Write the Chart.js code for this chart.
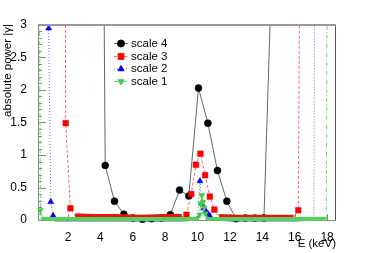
<!DOCTYPE html>
<html>
<head>
<meta charset="utf-8">
<script src="https://cdn.jsdelivr.net/npm/chart.js@4/dist/chart.umd.min.js"></script>
<style>
  html, body { margin: 0; padding: 0; background: #fff; }
  canvas { display: block; }
</style>
</head>
<body>
<canvas id="chart" width="374" height="253"></canvas>
<script>
// values (E in keV, absolute power)
const scale4X = [3.72, 4.30, 4.87, 5.45, 6.02, 6.60, 7.17, 7.75, 8.32, 8.89, 9.46, 10.06, 10.64, 11.23, 11.81, 12.38, 12.95, 13.53, 14.10, 14.68];
const scale4Y = [21, 0.84, 0.29, 0.09, 0.03, 0.01, 0.02, 0.03, 0.08, 0.46, 0.37, 2.03, 1.49, 0.76, 0.29, 0.02, 0.03, 0.03, 0.03, 4.6];

const scale3X = [1.57, 1.86, 2.15, 2.44, 3.5, 5.0, 6.5, 8.0, 9.03, 9.32, 9.61, 9.90, 10.18, 10.47, 10.76, 11.04, 11.33, 12.5, 14.0, 15.5, 15.93, 16.22, 16.51];
const scale3Y = [25, 1.49, 0.18, 0.06, 0.05, 0.05, 0.04, 0.05, 0.05, 0.08, 0.40, 0.85, 1.02, 0.69, 0.36, 0.16, 0.05, 0.04, 0.04, 0.04, 0.04, 0.15, 12];

const scale2X = [0.68, 0.81, 0.94, 1.08, 1.2, 3.0, 5.0, 7.0, 9.0, 9.91, 10.03, 10.15, 10.27, 10.39, 10.51, 10.63, 10.75, 10.87, 12.0, 14.0, 16.0, 17.19, 17.31];
const scale2Y = [8, 2.95, 0.28, 0.07, 0.0, 0.0, 0.0, 0.0, 0.0, 0.01, 0.05, 0.60, 0.25, 0.18, 0.14, 0.10, 0.07, 0.02, 0.0, 0.0, 0.0, 0.01, 12];

const scale1X = [0.23, 0.30, 0.37, 0.45, 2.0, 4.0, 6.0, 8.0, 10.06, 10.13, 10.20, 10.27, 10.34, 10.41, 10.48, 10.55, 10.62, 12.0, 14.0, 16.0, 17.95, 18.02];
const scale1Y = [4, 0.15, 0.04, 0.02, 0.015, 0.015, 0.015, 0.015, 0.015, 0.08, 0.25, 0.38, 0.28, 0.19, 0.10, 0.04, 0.02, 0.015, 0.015, 0.015, 0.015, 5];

const xTicks = [2, 4, 6, 8, 10, 12, 14, 16, 18];
const seriesNames = ['scale 4', 'scale 3', 'scale 2', 'scale 1'];

const FONT = "'Liberation Sans', Arial, sans-serif";

function pts(xs, ys) {
    return xs.map((x, i) => ({ x: x, y: ys[i] }));
}

function isFloor(c) {
    return c.p0.parsed.y < 0.07 && c.p1.parsed.y < 0.07;
}

const styles = [
    { color: '#000000', line: '#666666', dash: [], band: 1, bandColor: '#666666', pointStyle: 'circle', radius: 3.5, rotation: 0, hideLow: false },
    { color: '#ff0000', line: 'rgba(255,70,70,0.85)', dash: [3, 2], band: 5.5, bandColor: '#ee1111', pointStyle: 'rect', radius: 4, rotation: 0, hideLow: true },
    { color: '#0000ff', line: 'rgba(80,80,255,0.85)', dash: [1, 2], band: 3, bandColor: '#5050d0', pointStyle: 'triangle', radius: 3.5, rotation: 0, hideLow: true },
    { color: '#44cc44', line: 'rgba(90,210,90,0.9)', dash: [4, 2, 1, 2], band: 4, bandColor: '#57d057', pointStyle: 'triangle', radius: 3.5, rotation: 180, hideLow: true }
];

function makeDataset(i, data) {
    const s = styles[i];
    return {
        label: seriesNames[i],
        data: data,
        order: 4 - i,
        borderColor: s.line,
        borderWidth: 1,
        borderDash: s.dash,
        tension: 0,
        fill: false,
        clip: { left: 4, right: 4, top: 0, bottom: 3 },
        pointStyle: s.pointStyle,
        pointRotation: s.rotation,
        pointBackgroundColor: s.color,
        pointBorderColor: s.color,
        pointBorderWidth: 0.5,
        pointRadius: c => (s.hideLow && c.raw && c.raw.y < 0.07) ? 0 : s.radius,
        segment: {
            borderWidth: c => (s.hideLow && isFloor(c)) ? s.band : 1,
            borderDash: c => (s.hideLow && isFloor(c)) ? [] : s.dash,
            borderColor: c => (s.hideLow && isFloor(c)) ? s.bandColor : s.line
        }
    };
}

const framePlugin = {
    id: 'frame',
    beforeDatasetsDraw(chart) {
        const ctx = chart.ctx;
        const a = chart.chartArea;
        const xs = chart.scales.x, ys = chart.scales.y;
        ctx.save();
        ctx.lineWidth = 1;
        ctx.strokeStyle = '#888';
        // left axis with ticks
        ctx.beginPath();
        ctx.moveTo(a.left + 0.5, a.top); ctx.lineTo(a.left + 0.5, a.bottom);
        for (let v = 0; v <= 3.0001; v += 0.1) {
            const y = Math.round(ys.getPixelForValue(v)) + 0.5;
            const major = Math.abs(v * 2 - Math.round(v * 2)) < 0.01;
            ctx.moveTo(a.left, y); ctx.lineTo(a.left + (major ? 8 : 4), y);
        }
        ctx.stroke();
        // bottom axis with ticks
        ctx.beginPath();
        ctx.moveTo(a.left, a.bottom + 0.5); ctx.lineTo(a.right, a.bottom + 0.5);
        for (let v = 0.5; v <= 18.5; v += 0.5) {
            const x = Math.round(xs.getPixelForValue(v)) + 0.5;
            const major = Math.abs(v / 2 - Math.round(v / 2)) < 0.01;
            ctx.moveTo(x, a.bottom); ctx.lineTo(x, a.bottom - (major ? 6 : 3));
        }
        ctx.stroke();
        // right border
        ctx.strokeStyle = '#555';
        ctx.beginPath();
        ctx.moveTo(a.right - 0.5, a.top); ctx.lineTo(a.right - 0.5, a.bottom);
        ctx.stroke();
        ctx.restore();
    },
    afterDraw(chart) {
        const ctx = chart.ctx;
        const a = chart.chartArea;
        ctx.save();
        // top border
        ctx.strokeStyle = '#999';
        ctx.lineWidth = 2;
        ctx.beginPath();
        ctx.moveTo(a.left, a.top); ctx.lineTo(a.right, a.top);
        ctx.stroke();

        // axis titles
        ctx.fillStyle = '#000';
        ctx.font = '11.5px ' + FONT;
        ctx.textAlign = 'right';
        ctx.textBaseline = 'middle';
        ctx.fillText('E (keV)', a.right, 244);
        ctx.translate(11, 24);
        ctx.rotate(-Math.PI / 2);
        ctx.textBaseline = 'alphabetic';
        ctx.fillText('absolute power |γ|', 0, 0);
        ctx.restore();

        // legend
        const rows = [43.5, 56.5, 69, 81.5];
        ctx.save();
        ctx.font = '11.5px ' + FONT;
        ctx.textBaseline = 'middle';
        ctx.textAlign = 'left';
        styles.forEach((s, i) => {
            const y = rows[i];
            ctx.strokeStyle = s.line;
            ctx.lineWidth = 1;
            ctx.setLineDash(s.dash);
            ctx.beginPath();
            ctx.moveTo(114, y); ctx.lineTo(128, y);
            ctx.stroke();
            ctx.setLineDash([]);
            ctx.fillStyle = s.color;
            ctx.strokeStyle = s.color;
            Chart.helpers.drawPoint(ctx, { pointStyle: s.pointStyle, radius: s.radius, rotation: s.rotation, borderWidth: 0.5 }, 121, y);
            ctx.fillStyle = '#000';
            ctx.fillText(seriesNames[i], 131, y);
        });
        ctx.restore();
    }
};

const chart = new Chart(document.getElementById('chart').getContext('2d'), {
    type: 'line',
    data: {
        datasets: [
            makeDataset(0, pts(scale4X, scale4Y)),
            makeDataset(1, pts(scale3X, scale3Y)),
            makeDataset(2, pts(scale2X, scale2Y)),
            makeDataset(3, pts(scale1X, scale1Y))
        ]
    },
    options: {
        responsive: false,
        animation: false,
        layout: { padding: { left: 0, right: 38, top: 25, bottom: 0 } },
        plugins: { legend: { display: false }, tooltip: { enabled: false } },
        scales: {
            x: {
                type: 'linear',
                min: 0.15,
                max: 18.55,
                grid: { display: false },
                border: { display: false },
                ticks: { color: '#000', padding: 2, maxRotation: 0, font: { family: FONT, size: 12 } },
                afterBuildTicks: s => { s.ticks = xTicks.map(v => ({ value: v })); },
                afterFit: s => { s.height = 33; }
            },
            y: {
                type: 'linear',
                min: 0,
                max: 3,
                grid: { display: false },
                border: { display: false },
                ticks: { color: '#000', padding: 3, stepSize: 0.5, font: { family: FONT, size: 12 }, callback: v => String(v) },
                afterFit: s => { s.width = 38; }
            }
        }
    },
    plugins: [framePlugin]
});
</script>
</body>
</html>
